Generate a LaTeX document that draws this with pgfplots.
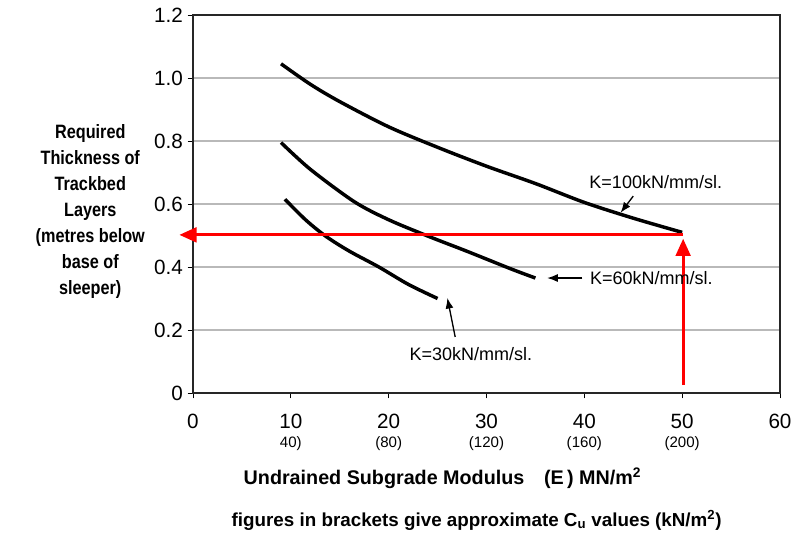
\documentclass[border=0pt]{standalone}
\usepackage{pgfplots}
\pgfplotsset{compat=1.18}
\usepackage{fontspec}
\setmainfont{Liberation Sans}
\newfontfamily\narrow[FakeStretch=0.84]{Liberation Sans}
\usetikzlibrary{arrows.meta}
\begin{document}
\begin{tikzpicture}
\begin{axis}[
  name=ax,
  scale only axis, width=440.25pt, height=283.5pt,
  xmin=0, xmax=60, ymin=0, ymax=1.2,
  xtick={0,10,20,30,40,50,60},
  xticklabels={0,10,20,30,40,50,60},
  ytick={0,0.2,0.4,0.6,0.8,1.0,1.2},
  yticklabels={0,0.2,0.4,0.6,0.8,1.0,1.2},
  ymajorgrids, grid style={gray!55, line width=0.8pt},
  axis line style={black!85, line width=0.8pt},
  tick style={black, line width=0.6pt}, tick align=outside, major tick length=4pt,
  tick pos=left,
  ticklabel style={font=\fontsize{15.5}{16}\selectfont},
  xticklabel style={yshift=-8pt},
  /pgf/number format/assume math mode=true,
  clip=false,
]
% K=100
\addplot[black, line width=2.6pt, smooth] coordinates {
 (9,1.045) (12,0.98) (15,0.925) (20,0.845) (25,0.78) (30,0.72) (35,0.665) (40,0.605) (45,0.555) (50,0.51)};
% K=60
\addplot[black, line width=2.6pt, smooth] coordinates {
 (9,0.795) (12,0.71) (16.5,0.607) (20,0.55) (24.1,0.497) (28,0.45) (32.5,0.394) (35,0.365)};
% K=30
\addplot[black, line width=2.6pt, smooth] coordinates {
 (9.4,0.615) (11.5,0.55) (13.6,0.497) (16,0.45) (19,0.40) (22,0.345) (25,0.30)};
% red arrows
\addplot[red, line width=2.3pt, -{Triangle[length=13pt,width=11pt]}] coordinates {(50.1,0.502) (-1.4,0.502)};
\addplot[red, line width=2.3pt, -{Triangle[length=13pt,width=11pt]}] coordinates {(50.1,0.025) (50.1,0.49)};
% annotation arrows
\addplot[black, line width=1pt, -{Latex[length=8pt,width=6pt]}] coordinates {(45.0,0.625) (43.7,0.572)};
\addplot[black, line width=1pt, -{Latex[length=8pt,width=6pt]}] coordinates {(39.8,0.365) (36.2,0.365)};
\addplot[black, line width=1pt, -{Latex[length=8pt,width=6pt]}] coordinates {(26.8,0.178) (26.0,0.302)};
\node[font=\fontsize{13.5}{15}\selectfont] at (axis cs:47.3,0.67) {K=100kN/mm/sl.};
\node[anchor=west, font=\fontsize{13.5}{15}\selectfont] at (axis cs:40.1,0.365) {K=60kN/mm/sl.};
\node[font=\fontsize{13.5}{15}\selectfont] at (axis cs:28.4,0.124) {K=30kN/mm/sl.};
% bracket values
\foreach \xx/\tt in {10/{40)},20/{(80)},30/{(120)},40/{(160)},50/{(200)}}{
  \edef\temp{\noexpand\node[font=\noexpand\fontsize{11.3}{12}\noexpand\selectfont] at (axis cs:\xx,-0.162) {\tt};}
  \temp
}
% y label
\node[align=center, font=\narrow\bfseries\fontsize{14.5}{19.5}\selectfont] at (axis cs:-10.5,0.575)
 {Required\\Thickness of\\Trackbed\\Layers\\(metres below\\base of\\sleeper)};
% x label
\node[font=\bfseries\fontsize{14.8}{17}\selectfont] at (axis cs:25.5,-0.27)
 {Undrained Subgrade Modulus\quad(E\,) MN/m\textsuperscript{2}};
\node[font=\bfseries\fontsize{14.1}{17}\selectfont] at (axis cs:29.0,-0.403)
 {figures in brackets give approximate C\textsubscript{u} values (kN/m\textsuperscript{2})};
\end{axis}
\pgfresetboundingbox
\path[use as bounding box] ([shift={(-144.75pt,-105pt)}]ax.south west) rectangle ++(594.75pt,399.75pt);
\end{tikzpicture}
\end{document}
